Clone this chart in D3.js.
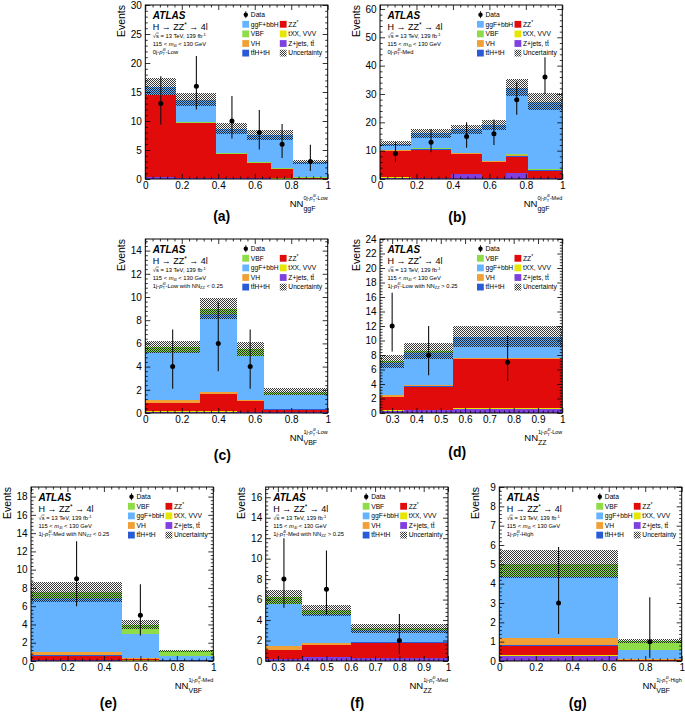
<!DOCTYPE html>
<html><head><meta charset="utf-8">
<script src="https://cdn.jsdelivr.net/npm/d3@7"></script>
<style>
body{margin:0;background:#fff}
svg{display:block;font-family:"Liberation Sans",Arial,Helvetica,sans-serif}
text{white-space:pre}
</style>
</head><body>
<svg id="c" width="685" height="713"></svg>
<script>
// ---------------- data ----------------
const panelLetters = ["(a)","(b)","(c)","(d)","(e)","(f)","(g)"];
const jetCat   = ["0j","0j","1j","1j","1j","1j","1j"];
const ptCat    = ["Low","Med","Low","Low","Med","Med","High"];
const nnCut    = ["","","< 0.25","> 0.25","< 0.25","> 0.25",""];
const nnName   = ["ggF","ggF","VBF","ZZ","VBF","ZZ","VBF"];
const ggfOnTop = [true,true,false,false,false,false,false];

const xDomains = [[0,1],[0,1],[0,1],[0.25,1],[0,1],[0.25,1],[0,1]];
const yMaxes   = [30, 61.4, 15, 24, 19.05, 17, 9];
const xTickValues = [
  [0,0.2,0.4,0.6,0.8,1],[0,0.2,0.4,0.6,0.8,1],[0,0.2,0.4,0.6,0.8,1],
  [0.3,0.4,0.5,0.6,0.7,0.8,0.9,1],[0,0.2,0.4,0.6,0.8,1],
  [0.3,0.4,0.5,0.6,0.7,0.8,0.9,1],[0,0.2,0.4,0.6,0.8,1]];
const yTickValues = [
  [0,5,10,15,20,25,30],[0,10,20,30,40,50,60],[0,2,4,6,8,10,12,14],
  [0,2,4,6,8,10,12,14,16,18,20,22,24],[0,2,4,6,8,10,12,14,16,18],
  [0,2,4,6,8,10,12,14,16],[0,1,2,3,4,5,6,7,8,9]];

const binEdges = [
  [0,0.17,0.39,0.56,0.69,0.81,1],
  [0,0.17,0.39,0.56,0.69,0.81,1],
  [0,0.3,0.5,0.65,1],
  [0.25,0.35,0.55,1],
  [0,0.5,0.7,1],
  [0.25,0.4,0.6,1],
  [0,0.65,1]];

const zjets = [[0.3,0.15,0.1,0.1,0.05,0.05],[0.5,0.4,1.8,0.4,2.0,0.3],[0.1,0.1,0.08,0.05],[0.3,0.4,0.6],[0.1,0.05,0.02],[0.2,0.4,0.25],[0.25,0.01]];
const txx   = [[0.05,0.05,0.05,0.05,0.05,0.02],[0.1,0.1,0.1,0.1,0.15,0.1],[0.03,0.03,0.03,0.02],[0.05,0.05,0.05],[0.03,0.02,0.01],[0.03,0.03,0.03],[0.05,0.01]];
const zz    = [[14.05,9.4,4.15,2.55,1.6,0.08],[9.4,9.9,6.9,5.4,5.75,2.5],[0.73,1.47,0.89,0.23],[1.85,3.2,6.8],[0.47,0.18,0.02],[0.84,1.12,1.52],[0.5,0.03]];
const tth   = [[0.02,0.02,0.02,0.03,0.03,0.02],[0.05,0.05,0.08,0.1,0.15,0.15],[0.03,0.03,0.02,0.01],[0.05,0.05,0.05],[0.05,0.02,0.01],[0.03,0.02,0.02],[0.03,0.01]];
const vh    = [[0.05,0.05,0.05,0.05,0.05,0.03],[0.1,0.15,0.15,0.25,0.3,0.25],[0.22,0.22,0.06,0.05],[0.25,0.2,0.1],[0.35,0.05,0.01],[0.4,0.23,0.08],[0.37,0.02]];
const vbf   = [[0.05,0.08,0.08,0.1,0.1,0.08],[0.1,0.2,0.2,0.25,0.35,0.35],[0.4,0.5,0.6,0.3],[0.25,0.2,0.05],[0.65,0.95,0.5],[0.65,0.4,0.2],[0.69,0.46]];
const ggf   = [[1.38,3.95,4.25,4.72,5.72,2.62],[2.15,5.3,8.27,12.5,23.5,23.65],[4.19,6.65,3.87,1.19],[4.4,4.4,2.9],[5.95,2.68,0.48],[4.1,2.75,1.1],[3.13,0.49]];
const uncert = [[1.5,1.15,0.95,0.85,0.85,0.35],[0.9,1.5,1.5,1.8,3.0,2.9],[0.55,0.9,0.6,0.3],[0.9,1.1,1.5],[1.1,0.5,0.1],[0.7,0.55,0.45],[0.72,0.12]];

const dataN  = [[13,16,10,8,6,3],[9,13,15,16,28,36],[4,6,4,null],[12,8,7],[9,5,null],[8,7,2],[3,1]];
const dataLo = [[9.4,12.0,7.0,5.1,3.6,1.4],[6.0,9.4,11.0,12.0,22.7,30.0],[2.1,3.6,2.1,null],[8.5,5.2,4.4],[6.0,2.8,null],[5.2,4.5,0.65],[1.4,0.17]];
const dataHi = [[17.7,21.2,14.3,11.9,9.5,5.9],[13.0,17.6,20.0,21.0,34.3,43.0],[7.2,9.6,7.2,null],[16.6,12.0,10.7],[13.1,8.4,null],[12.0,10.8,4.6],[5.9,3.3]];

const procColors = {zjets:"#8040e0", txx:"#e6e600", zz:"#e20b0b", tth:"#2a5bd7", vh:"#f0a035", vbf:"#8edc48", ggf:"#66b3ff"};

// ---------------- layout ----------------
const frames = [
  {x0:145.3,x1:327.7,y0:5,  y1:179,lx:221.7,ly:221},
  {x0:380,  x1:562.3,y0:5,  y1:179,lx:457.3,ly:221.5},
  {x0:145.3,x1:327.7,y0:239,y1:413,lx:222.3,ly:460.4},
  {x0:380,  x1:562.3,y0:239,y1:413,lx:457.3,ly:457},
  {x0:31,   x1:213.3,y0:487,y1:661,lx:108.3,ly:707.8},
  {x0:265.7,x1:448,  y0:487,y1:661,lx:357.3,ly:707.8},
  {x0:499.3,x1:681.7,y0:487,y1:661,lx:577.7,ly:707.8}];

const svg = d3.select("#c");
const defs = svg.append("defs");
const pat = defs.append("pattern").attr("id","hatch").attr("width",2).attr("height",2).attr("patternUnits","userSpaceOnUse");
pat.append("rect").attr("x",0).attr("y",0).attr("width",1).attr("height",1).attr("fill","#000").attr("fill-opacity",0.78);
pat.append("rect").attr("x",1).attr("y",1).attr("width",1).attr("height",1).attr("fill","#000").attr("fill-opacity",0.78);

// rich-text helper
function rich(parent, x, y, parts, anchor) {
  const g = parent.append("g");
  function lay(p, atx) {
    if (Array.isArray(p)) { let cx = atx; p.forEach(q => cx += lay(q, cx)); return cx - atx; }
    if (p.stack) return Math.max(...p.stack.map(q => lay(q, atx)));
    const t = g.append("text").attr("x", atx).attr("y", p.dy || 0).attr("font-size", p.s).text(p.t);
    if (p.it) t.attr("font-style", "italic");
    if (p.b) t.attr("font-weight", "bold");
    const w = t.node().getComputedTextLength();
    if (p.ol) g.append("line").attr("x1", atx + w*0.05).attr("x2", atx + w*0.98)
      .attr("y1", (p.dy||0) - p.s*0.82).attr("y2", (p.dy||0) - p.s*0.82)
      .attr("stroke", "#000").attr("stroke-width", 0.5);
    return w + (p.gap || 0);
  }
  const w = lay(parts, 0);
  const off = anchor === "end" ? -w : anchor === "middle" ? -w/2 : 0;
  g.attr("transform", `translate(${x+off},${y})`);
  return g;
}

function minorTicks(domain, major, n) {
  const step = (major[1] - major[0]) / n;
  const out = [];
  const start = Math.ceil((domain[0] - 1e-9) / step);
  for (let k = start; k * step <= domain[1] + 1e-9; k++) {
    const v = +(k * step).toFixed(6);
    if (!major.some(m => Math.abs(m - v) < 1e-6)) out.push(v);
  }
  return out;
}

frames.forEach((F, p) => {
  const g = svg.append("g");
  const x = d3.scaleLinear().domain(xDomains[p]).range([F.x0, F.x1]);
  const y = d3.scaleLinear().domain([0, yMaxes[p]]).range([F.y1, F.y0]);
  const edges = binEdges[p];
  const order = ggfOnTop[p] ? ["zjets","txx","zz","tth","vh","vbf","ggf"] : ["zjets","txx","zz","tth","vh","ggf","vbf"];
  const src = {zjets, txx, zz, tth, vh, vbf, ggf};
  const rows = edges.slice(0, -1).map((e, i) => {
    const r = {lo: e, hi: edges[i+1]};
    order.forEach(k => r[k] = src[k][p][i]);
    return r;
  });
  const layers = d3.stack().keys(order)(rows);
  const clipId = "clip" + p;
  defs.append("clipPath").attr("id", clipId).append("rect")
    .attr("x", F.x0).attr("y", F.y0).attr("width", F.x1 - F.x0).attr("height", F.y1 - F.y0);
  const plot = g.append("g").attr("clip-path", `url(#${clipId})`);
  layers.forEach(layer => {
    plot.append("g").attr("fill", procColors[layer.key]).attr("shape-rendering","crispEdges")
      .selectAll("rect").data(layer).join("rect")
      .attr("x", d => x(d.data.lo)).attr("width", d => x(d.data.hi) - x(d.data.lo))
      .attr("y", d => y(d[1])).attr("height", d => Math.max(0, y(d[0]) - y(d[1])));
  });
  const top = layers[layers.length - 1];
  plot.append("g").selectAll("rect").data(top).join("rect")
    .attr("fill", "url(#hatch)").attr("shape-rendering","crispEdges")
    .attr("x", d => x(d.data.lo)).attr("width", d => x(d.data.hi) - x(d.data.lo))
    .attr("y", (d, i) => y(d[1] + uncert[p][i]))
    .attr("height", (d, i) => y(d[1] - uncert[p][i]) - y(d[1] + uncert[p][i]));

  // data points
  const pts = edges.slice(0, -1).map((e, i) => ({c: (e + edges[i+1]) / 2, n: dataN[p][i], lo: dataLo[p][i], hi: dataHi[p][i]}))
    .filter(d => d.n !== null);
  plot.append("g").selectAll("line").data(pts).join("line")
    .attr("x1", d => x(d.c)).attr("x2", d => x(d.c)).attr("y1", d => y(d.lo)).attr("y2", d => y(d.hi))
    .attr("stroke", "#111").attr("stroke-width", 1.1);
  plot.append("g").selectAll("circle").data(pts).join("circle")
    .attr("cx", d => x(d.c)).attr("cy", d => y(d.n)).attr("r", 2.5).attr("fill", "#000");

  // axes (ROOT style: ticks inside, on all four sides)
  const xt = xTickValues[p], yt = yTickValues[p];
  const xm = minorTicks(xDomains[p], xt, 5), ym = minorTicks([0, yMaxes[p]], yt, 5);
  const fmt = d => d3.format("~g")(d);
  const axes = g.append("g").attr("font-size", 10.5);
  axes.append("g").attr("transform", `translate(0,${F.y1})`)
    .call(d3.axisBottom(x).tickValues(xt).tickSize(-5).tickPadding(3).tickFormat(fmt));
  axes.append("g").attr("transform", `translate(0,${F.y1})`).call(d3.axisBottom(x).tickValues(xm).tickSize(-2.5).tickFormat(""));
  axes.append("g").attr("transform", `translate(0,${F.y0})`).call(d3.axisTop(x).tickValues(xt).tickSize(-5).tickFormat(""));
  axes.append("g").attr("transform", `translate(0,${F.y0})`).call(d3.axisTop(x).tickValues(xm).tickSize(-2.5).tickFormat(""));
  axes.append("g").attr("transform", `translate(${F.x0},0)`).call(d3.axisLeft(y).tickValues(yt).tickSize(-5).tickPadding(3.5).tickFormat(fmt));
  axes.append("g").attr("transform", `translate(${F.x0},0)`).call(d3.axisLeft(y).tickValues(ym).tickSize(-2.5).tickFormat(""));
  axes.append("g").attr("transform", `translate(${F.x1},0)`).call(d3.axisRight(y).tickValues(yt).tickSize(-5).tickFormat(""));
  axes.append("g").attr("transform", `translate(${F.x1},0)`).call(d3.axisRight(y).tickValues(ym).tickSize(-2.5).tickFormat(""));
  axes.selectAll(".domain").remove();
  axes.selectAll("text").attr("fill", "#000").attr("font-family", "'Liberation Sans',Arial,sans-serif");
  axes.selectAll("line").attr("stroke", "#000").attr("stroke-width", 0.8);

  g.append("rect").attr("x", F.x0).attr("y", F.y0).attr("width", F.x1 - F.x0).attr("height", F.y1 - F.y0)
    .attr("fill", "none").attr("stroke", "#000").attr("stroke-width", 1);

  // y title
  g.append("text").attr("transform", `translate(${F.x0 - 20.5},${F.y0}) rotate(-90)`)
    .attr("text-anchor", "end").attr("font-size", 10.5).text("Events");

  // x title
  const ss = 5.5;
  rich(g, F.x1, F.y1 + 28, [
    {t: "NN", s: 9.5},
    {stack: [
      {t: nnName[p], s: 7, dy: 3.5},
      [{t: jetCat[p] + "-", s: ss, dy: -7.2}, {t: "p", s: ss, dy: -7.2, it: true},
       {stack: [{t: "T", s: 4, dy: -5.4}, {t: "4l", s: 4, dy: -9.6}]},
       {t: "-" + ptCat[p], s: ss, dy: -7.2}]
    ]}
  ], "end");

  // panel letter
  g.append("text").attr("x", F.lx).attr("y", F.ly).attr("text-anchor", "middle")
    .attr("font-size", 14).attr("font-weight", "bold").text(panelLetters[p]);

  // ATLAS labels
  const tx = F.x0 + 7.5;
  g.append("text").attr("x", tx).attr("y", F.y0 + 14.3).attr("font-size", 10)
    .attr("font-weight", "bold").attr("font-style", "italic").text("ATLAS");
  rich(g, tx, F.y0 + 24.8, [{t: "H → ZZ", s: 9}, {t: "*", s: 6.5, dy: -3}, {t: " → 4l", s: 9}], "start");
  const fs = 5.8;
  rich(g, tx, F.y0 + 32.8, [{t: "√", s: fs}, {t: "s", s: fs, ol: true}, {t: " = 13 TeV, 139 fb", s: fs}, {t: "-1", s: 4, dy: -2.2}], "start");
  rich(g, tx, F.y0 + 40.5, [{t: "115 < ", s: fs}, {t: "m", s: fs, it: true}, {t: "4l", s: 4, dy: 1.3}, {t: " < 130 GeV", s: fs}], "start");
  const cat = [{t: jetCat[p] + "-", s: fs}, {t: "p", s: fs, it: true},
    {stack: [{t: "T", s: 4, dy: 1.4}, {t: "4l", s: 4, dy: -2.2}]}, {t: "-" + ptCat[p], s: fs}];
  if (nnCut[p]) cat.push({t: " with NN", s: fs}, {t: "ZZ", s: 4, dy: 1.4}, {t: " " + nnCut[p], s: fs});
  rich(g, tx, F.y0 + 48.5, cat, "start");

  // legend
  const ls = 6.7, rowH = 9.6, r0 = F.y0 + 9.7;
  const c1 = F.x0 + 97, c2 = F.x0 + 134.5, sw = 6.8;
  const col1 = ggfOnTop[p] ? ["ggf","vbf","vh","tth"] : ["vbf","ggf","vh","tth"];
  const names = {
    ggf: [{t: "ggF+bbH", s: ls}], vbf: [{t: "VBF", s: ls}], vh: [{t: "VH", s: ls}],
    tth: [{t: "t", s: ls}, {t: "t", s: ls, ol: true}, {t: "H+tH", s: ls}],
    zz: [{t: "ZZ", s: ls}, {t: "*", s: 5, dy: -2.3}],
    txx: [{t: "tXX, VVV", s: ls}],
    zjets: [{t: "Z+jets, t", s: ls}, {t: "t", s: ls, ol: true}],
    unc: [{t: "Uncertainty", s: ls}]
  };
  // data entry
  const dmx = F.x0 + 100.5;
  g.append("line").attr("x1", dmx).attr("x2", dmx).attr("y1", r0 - 3.5).attr("y2", r0 + 3.5).attr("stroke", "#000").attr("stroke-width", 0.8);
  g.append("circle").attr("cx", dmx).attr("cy", r0).attr("r", 2.2).attr("fill", "#000");
  rich(g, F.x0 + 105.5, r0 + 2.3, [{t: "Data", s: ls}], "start");
  col1.forEach((k, i) => {
    const cy = r0 + rowH * (i + 1);
    g.append("rect").attr("x", c1).attr("y", cy - sw/2).attr("width", sw).attr("height", sw).attr("fill", procColors[k]);
    rich(g, c1 + sw + 1.7, cy + 2.3, names[k], "start");
  });
  ["zz","txx","zjets","unc"].forEach((k, i) => {
    const cy = r0 + rowH * (i + 1);
    g.append("rect").attr("x", c2).attr("y", cy - sw/2).attr("width", sw).attr("height", sw)
      .attr("fill", k === "unc" ? "url(#hatch)" : procColors[k]);
    rich(g, c2 + sw + 1.7, cy + 2.3, names[k], "start");
  });
});
</script>
</body></html>
